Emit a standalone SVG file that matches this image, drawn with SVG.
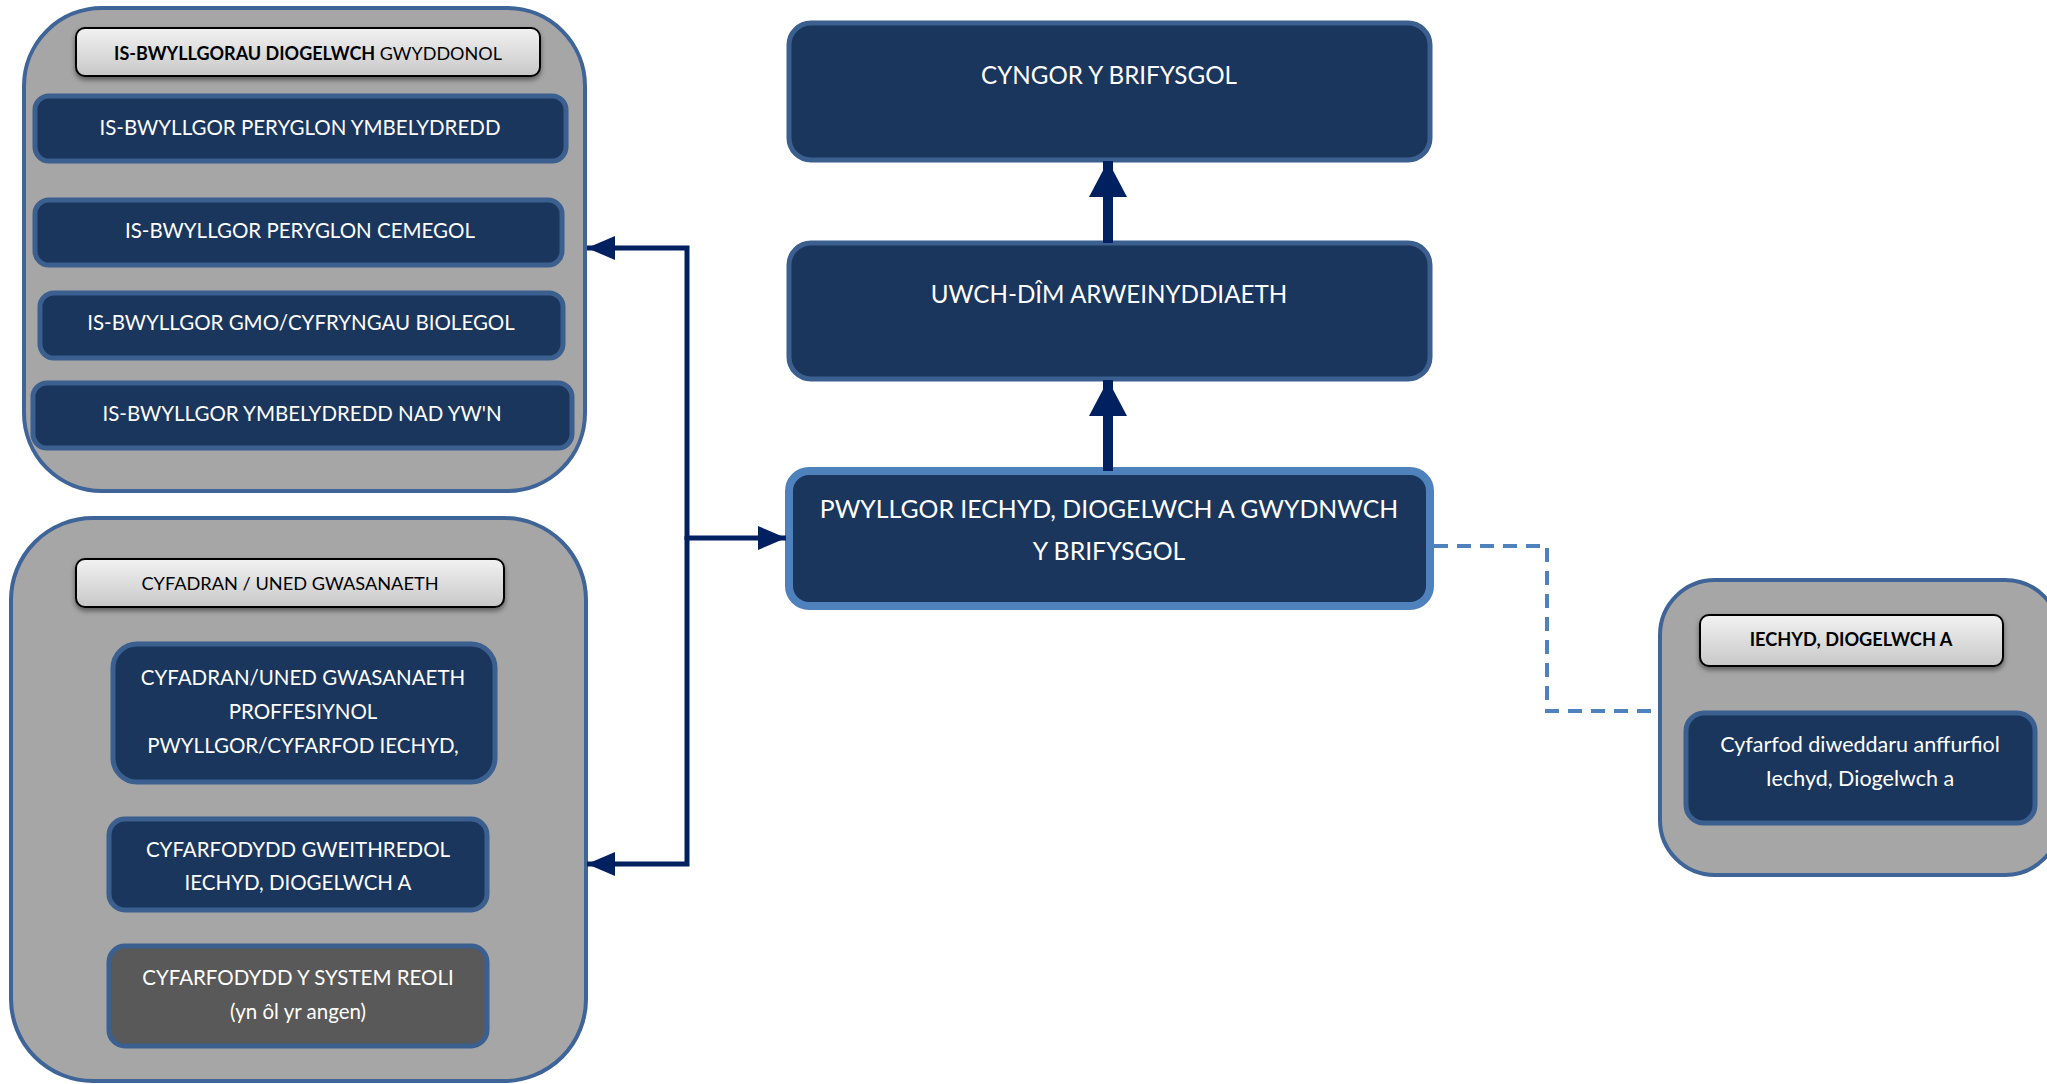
<svg xmlns="http://www.w3.org/2000/svg" width="2047" height="1084" viewBox="0 0 2047 1084">
<defs>
<style>
.grp{fill:#a6a6a6;stroke:#3f6498;stroke-width:4}
.node{fill:#1a365d;stroke:#3b5f8f;stroke-width:5}
.gnode{fill:#595959;stroke:#3b5f8f;stroke-width:5}
.hdr{fill:url(#hg);stroke:#000;stroke-width:2;filter:url(#sh)}
.main{fill:#1a365d;stroke:#3b5f8f;stroke-width:5}
.mainhl{fill:#1a365d;stroke:#4f81bd;stroke-width:8}
text{font-family:Lato,"Open Sans","Liberation Sans",sans-serif;text-anchor:middle}
.wt{fill:#fff}
.bt{fill:#000}
.conn{fill:none;stroke:#002060;stroke-width:5}
.thick{fill:none;stroke:#002060;stroke-width:10}
.dash{fill:none;stroke:#4f81bd;stroke-width:4;stroke-dasharray:14 9}
</style>
<linearGradient id="hg" x1="0" y1="0" x2="0" y2="1">
<stop offset="0" stop-color="#f2f2f2"/>
<stop offset="1" stop-color="#c8c8c8"/>
</linearGradient>
<filter id="sh" x="-10%" y="-30%" width="120%" height="170%">
<feDropShadow dx="0" dy="3" stdDeviation="2.5" flood-color="#000" flood-opacity="0.45"/>
</filter>
<marker id="ah" markerUnits="userSpaceOnUse" markerWidth="30" markerHeight="26" refX="28" refY="12" orient="auto">
<path d="M0,0 L28,12 L0,24 Z" fill="#002060"/>
</marker>
<marker id="ahb" markerUnits="userSpaceOnUse" markerWidth="38" markerHeight="40" refX="36" refY="19" orient="auto">
<path d="M0,0 L36,19 L0,38 Z" fill="#002060"/>
</marker>
</defs>
<rect width="2047" height="1084" fill="#fff"/>

<g id="group-is-bwyllgorau">
<rect class="grp" x="24" y="8" width="561" height="483" rx="78"/>
<rect class="hdr" x="76" y="28" width="464" height="48" rx="9"/>
<text class="bt" x="308" y="60" font-size="18"><tspan font-weight="bold">IS-BWYLLGORAU DIOGELWCH</tspan> GWYDDONOL</text>
</g>
<g id="node-ymbelydredd">
<rect class="node" x="35" y="96" width="531" height="65" rx="14"/>
<text class="wt" x="300" y="135" font-size="20.5">IS-BWYLLGOR PERYGLON YMBELYDREDD</text>
</g>
<g id="node-cemegol">
<rect class="node" x="35" y="200" width="527" height="65" rx="14"/>
<text class="wt" x="300" y="238" font-size="20.5">IS-BWYLLGOR PERYGLON CEMEGOL</text>
</g>
<g id="node-gmo">
<rect class="node" x="40" y="293" width="523" height="65" rx="14"/>
<text class="wt" x="301" y="330" font-size="20.5">IS-BWYLLGOR GMO/CYFRYNGAU BIOLEGOL</text>
</g>
<g id="node-nad-yw">
<rect class="node" x="33" y="383" width="539" height="65" rx="14"/>
<text class="wt" x="302" y="421" font-size="20.5">IS-BWYLLGOR YMBELYDREDD NAD YW'N</text>
</g>

<g id="group-cyfadran">
<rect class="grp" x="11" y="518" width="575" height="563" rx="82"/>
<rect class="hdr" x="76" y="559" width="428" height="48" rx="9"/>
<text class="bt" x="290" y="590" font-size="18.2">CYFADRAN / UNED GWASANAETH</text>
</g>
<g id="node-cyfadran-pwyllgor">
<rect class="node" x="113" y="644" width="382" height="138" rx="24"/>
<text class="wt" x="303" y="685" font-size="20.5">CYFADRAN/UNED GWASANAETH</text>
<text class="wt" x="303" y="719" font-size="20.5">PROFFESIYNOL</text>
<text class="wt" x="303" y="753" font-size="20.5">PWYLLGOR/CYFARFOD IECHYD,</text>
</g>
<g id="node-cyfarfodydd-gweithredol">
<rect class="node" x="109" y="819" width="378" height="91" rx="16"/>
<text class="wt" x="298" y="857" font-size="20.5">CYFARFODYDD GWEITHREDOL</text>
<text class="wt" x="298" y="890" font-size="20.5">IECHYD, DIOGELWCH A</text>
</g>
<g id="node-system-reoli">
<rect class="gnode" x="109" y="946" width="378" height="100" rx="16"/>
<text class="wt" x="298" y="985" font-size="20.5">CYFARFODYDD Y SYSTEM REOLI</text>
<text class="wt" x="298" y="1019" font-size="20.5">(yn ôl yr angen)</text>
</g>

<g id="node-cyngor">
<rect class="main" x="789" y="23" width="641" height="137" rx="22"/>
<text class="wt" x="1109" y="84" font-size="24.2">CYNGOR Y BRIFYSGOL</text>
</g>
<g id="node-uwch-dim">
<rect class="main" x="789" y="243" width="641" height="136" rx="22"/>
<text class="wt" x="1109" y="303" font-size="24.2">UWCH-DÎM ARWEINYDDIAETH</text>
</g>
<g id="node-pwyllgor">
<rect class="mainhl" x="789" y="471" width="641" height="135" rx="20"/>
<text class="wt" x="1109" y="518" font-size="24.8">PWYLLGOR IECHYD, DIOGELWCH A GWYDNWCH</text>
<text class="wt" x="1109" y="560" font-size="24.8">Y BRIFYSGOL</text>
</g>

<g id="group-iechyd">
<rect class="grp" x="1660" y="580" width="400" height="295" rx="55"/>
<rect class="hdr" x="1700" y="615" width="303" height="51" rx="9"/>
<text class="bt" x="1851" y="646" font-size="18.2" font-weight="bold">IECHYD, DIOGELWCH A</text>
</g>
<g id="node-cyfarfod-diweddaru">
<rect class="node" x="1686" y="713" width="349" height="110" rx="18"/>
<text class="wt" x="1860" y="752" font-size="21.5">Cyfarfod diweddaru anffurfiol</text>
<text class="wt" x="1860" y="786" font-size="21.5">Iechyd, Diogelwch a</text>
</g>

<g id="connectors">
<path class="thick" d="M1108,471 V380" marker-end="url(#ahb)"/>
<path class="thick" d="M1108,243 V161" marker-end="url(#ahb)"/>
<path class="conn" d="M687,538 H786" marker-end="url(#ah)"/>
<path class="conn" d="M687,540 V248 H587" marker-end="url(#ah)"/>
<path class="conn" d="M687,536 V864 H587" marker-end="url(#ah)"/>
<path class="dash" d="M1434,546 H1547 V711 H1658"/>
</g>
</svg>
